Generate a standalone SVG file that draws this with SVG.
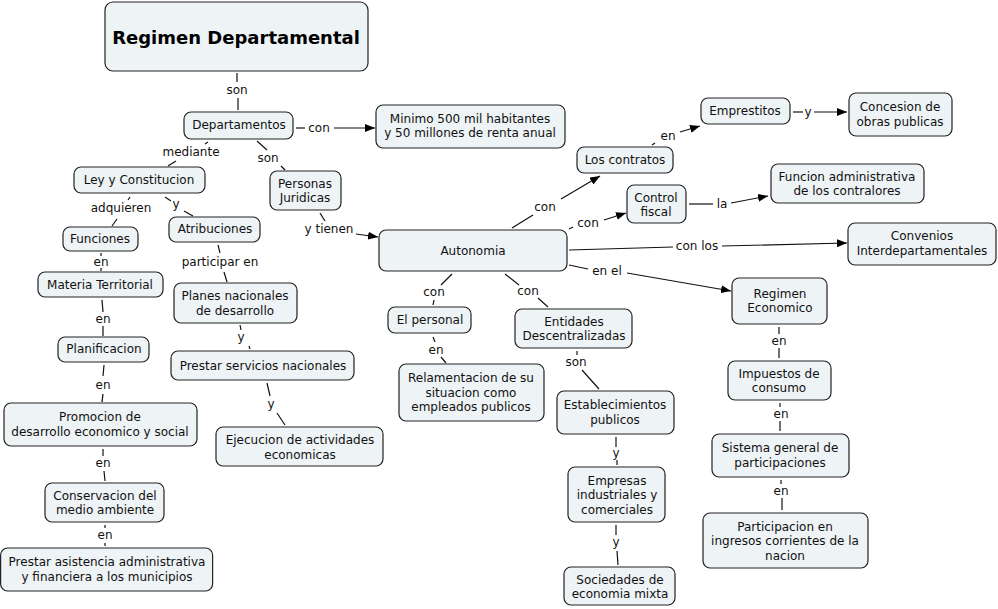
<svg xmlns="http://www.w3.org/2000/svg" width="998" height="609" viewBox="0 0 998 609">
<defs>
<marker id="ah" viewBox="0 0 10 8" refX="10" refY="4" markerWidth="10" markerHeight="8" markerUnits="userSpaceOnUse" orient="auto">
<path d="M0,0 L10,4 L0,8 z" fill="#000"/>
</marker>
<style>
.n rect{fill:#eef3f6;stroke:#222;stroke-width:1.2}
text{font-family:"DejaVu Sans",Verdana,sans-serif;font-size:12px;fill:#111;text-anchor:middle;dominant-baseline:central}
.t{font-size:18px;font-weight:bold;fill:#000}
.c line,.c polyline{stroke:#111;stroke-width:1.2;fill:none}
.c .a{marker-end:url(#ah)}
</style>
</defs>
<rect width="998" height="609" fill="#fff"/>

<g id="connectors" class="c">
<line x1="237" y1="73" x2="237" y2="82"/><line x1="238" y1="98" x2="238" y2="110"/>
<line x1="296" y1="128" x2="305" y2="128"/><line class="a" x1="334" y1="128" x2="375" y2="128"/>
<line x1="208" y1="142" x2="205" y2="144"/><line x1="176" y1="161" x2="168" y2="166"/>
<line x1="257" y1="141" x2="267" y2="150"/><line x1="281" y1="166" x2="285" y2="170"/>
<line x1="320" y1="213" x2="325" y2="221"/><line class="a" x1="356" y1="234" x2="378" y2="237"/>
<line x1="130" y1="197" x2="128" y2="200"/><line x1="117" y1="219" x2="112" y2="226"/>
<line x1="165" y1="197" x2="171" y2="201"/><line x1="184" y1="211" x2="193" y2="216"/>
<line x1="101" y1="253" x2="101" y2="256"/><line x1="101" y1="268" x2="101" y2="271"/>
<line x1="218" y1="245" x2="220" y2="253"/><line x1="224" y1="272" x2="227" y2="282"/>
<line x1="102" y1="300" x2="103" y2="312"/><line x1="103" y1="326" x2="103" y2="336"/>
<line x1="240" y1="325" x2="241" y2="330"/><line x1="249" y1="346" x2="250" y2="349"/>
<line x1="104" y1="365" x2="103" y2="376"/><line x1="103" y1="394" x2="102" y2="402"/>
<line x1="267" y1="383" x2="270" y2="396"/><line x1="277" y1="413" x2="285" y2="425"/>
<line x1="103" y1="449" x2="103" y2="456"/><line x1="104" y1="471" x2="105" y2="481"/>
<line x1="105" y1="525" x2="105" y2="528"/><line x1="105" y1="543" x2="105" y2="546"/>
<line x1="512" y1="228" x2="533" y2="215"/><line class="a" x1="561" y1="199" x2="600" y2="176"/>
<line x1="569" y1="229" x2="573" y2="227"/><line class="a" x1="604" y1="220" x2="626" y2="213"/>
<line x1="569" y1="250" x2="673" y2="247"/><line class="a" x1="722" y1="246" x2="847" y2="243"/>
<line x1="569" y1="265" x2="588" y2="269"/><line class="a" x1="627" y1="273" x2="731" y2="291"/>
<line x1="452" y1="274" x2="441" y2="285"/><line x1="434" y1="300" x2="433" y2="305"/>
<line x1="505" y1="274" x2="519" y2="285"/><line x1="538" y1="298" x2="548" y2="307"/>
<line x1="652" y1="145" x2="655" y2="143"/><line class="a" x1="680" y1="132" x2="700" y2="126"/>
<line x1="793" y1="112" x2="803" y2="112"/><line class="a" x1="814" y1="112" x2="847" y2="112"/>
<line x1="689" y1="204" x2="713" y2="204"/><line class="a" x1="731" y1="203" x2="768" y2="196"/>
<line x1="779" y1="327" x2="779" y2="334"/><line x1="779" y1="348" x2="779" y2="358"/>
<line x1="780" y1="403" x2="780" y2="407"/><line x1="780" y1="421" x2="780" y2="431"/>
<line x1="781" y1="480" x2="781" y2="484"/><line x1="782" y1="498" x2="782" y2="510"/>
<line x1="433" y1="337" x2="435" y2="342"/><line x1="441" y1="357" x2="446" y2="363"/>
<line x1="577" y1="351" x2="577" y2="355"/><line x1="582" y1="370" x2="599" y2="389"/>
<line x1="616" y1="437" x2="616" y2="447"/><line x1="617" y1="460" x2="617" y2="465"/>
<line x1="616" y1="525" x2="616" y2="535"/><line x1="617" y1="551" x2="618" y2="565"/>
</g>

<g id="labels">
<text x="237" y="90">son</text>
<text x="319" y="128">con</text>
<text x="191" y="152">mediante</text>
<text x="268" y="158">son</text>
<text x="329" y="229">y tienen</text>
<text x="121" y="208">adquieren</text>
<text x="176" y="204">y</text>
<text x="101" y="262">en</text>
<text x="220" y="262">participar en</text>
<text x="103" y="319">en</text>
<text x="241" y="337">y</text>
<text x="103" y="385">en</text>
<text x="271" y="404">y</text>
<text x="103" y="463">en</text>
<text x="105" y="535">en</text>
<text x="545" y="207">con</text>
<text x="588" y="223">con</text>
<text x="697" y="246">con los</text>
<text x="607" y="271">en el</text>
<text x="434" y="292">con</text>
<text x="528" y="291">con</text>
<text x="668" y="136">en</text>
<text x="808" y="112">y</text>
<text x="722" y="204">la</text>
<text x="779" y="341">en</text>
<text x="781" y="414">en</text>
<text x="781" y="491">en</text>
<text x="436" y="350">en</text>
<text x="576" y="362">son</text>
<text x="616" y="453">y</text>
<text x="616" y="542">y</text>
</g>

<g id="n-regimen-dep" class="n"><rect x="105" y="2" width="263" height="69" rx="8"/><text class="t" x="236" y="37">Regimen Departamental</text></g>
<g id="n-departamentos" class="n"><rect x="184" y="112" width="109" height="27" rx="7"/><text x="239" y="125">Departamentos</text></g>
<g id="n-minimo" class="n"><rect x="376" y="105" width="189" height="43" rx="7"/><text x="470" y="119">Minimo 500 mil habitantes</text><text x="470" y="133">y 50 millones de renta anual</text></g>
<g id="n-ley" class="n"><rect x="74" y="167" width="131" height="26" rx="7"/><text x="139" y="180">Ley y Constitucion</text></g>
<g id="n-personas" class="n"><rect x="270" y="171" width="71" height="39" rx="7"/><text x="305" y="184">Personas</text><text x="305" y="198">Juridicas</text></g>
<g id="n-funciones" class="n"><rect x="63" y="227" width="75" height="24" rx="7"/><text x="100" y="239">Funciones</text></g>
<g id="n-atribuciones" class="n"><rect x="169" y="217" width="91" height="25" rx="7"/><text x="215" y="229">Atribuciones</text></g>
<g id="n-materia" class="n"><rect x="38" y="272" width="125" height="25" rx="7"/><text x="100" y="285">Materia Territorial</text></g>
<g id="n-planes" class="n"><rect x="174" y="283" width="123" height="40" rx="7"/><text x="235" y="296">Planes nacionales</text><text x="235" y="311">de desarrollo</text></g>
<g id="n-planificacion" class="n"><rect x="58" y="337" width="91" height="25" rx="7"/><text x="104" y="349">Planificacion</text></g>
<g id="n-prestar-serv" class="n"><rect x="171" y="351" width="183" height="29" rx="7"/><text x="263" y="366">Prestar servicios nacionales</text></g>
<g id="n-promocion" class="n"><rect x="4" y="403" width="193" height="43" rx="7"/><text x="100" y="417">Promocion de</text><text x="100" y="432">desarrollo economico y social</text></g>
<g id="n-ejecucion" class="n"><rect x="216" y="427" width="167" height="39" rx="7"/><text x="300" y="440">Ejecucion de actividades</text><text x="300" y="455">economicas</text></g>
<g id="n-conservacion" class="n"><rect x="45" y="483" width="119" height="39" rx="7"/><text x="105" y="496">Conservacion del</text><text x="105" y="510">medio ambiente</text></g>
<g id="n-asistencia" class="n"><rect x="0.6" y="548" width="212" height="43" rx="7"/><text x="107" y="562">Prestar asistencia administrativa</text><text x="107" y="577">y financiera a los municipios</text></g>
<g id="n-autonomia" class="n"><rect x="379" y="230" width="188" height="41" rx="7"/><text x="473" y="251">Autonomia</text></g>
<g id="n-contratos" class="n"><rect x="577" y="147" width="96" height="26" rx="7"/><text x="625" y="160">Los contratos</text></g>
<g id="n-emprestitos" class="n"><rect x="701" y="98" width="89" height="26" rx="7"/><text x="745" y="111">Emprestitos</text></g>
<g id="n-concesion" class="n"><rect x="849" y="93" width="103" height="43" rx="7"/><text x="900" y="107">Concesion de</text><text x="900" y="122">obras publicas</text></g>
<g id="n-control" class="n"><rect x="627" y="185" width="59" height="38" rx="7"/><text x="656" y="198">Control</text><text x="656" y="212">fiscal</text></g>
<g id="n-funcion-adm" class="n"><rect x="771" y="164" width="153" height="39" rx="7"/><text x="847" y="177">Funcion administrativa</text><text x="847" y="191">de los contralores</text></g>
<g id="n-convenios" class="n"><rect x="848" y="223" width="148" height="42" rx="7"/><text x="922" y="236">Convenios</text><text x="922" y="251">Interdepartamentales</text></g>
<g id="n-regimen-eco" class="n"><rect x="732" y="278" width="95" height="46" rx="7"/><text x="780" y="294">Regimen</text><text x="780" y="308">Economico</text></g>
<g id="n-personal" class="n"><rect x="388" y="307" width="83" height="26" rx="7"/><text x="430" y="320">El personal</text></g>
<g id="n-entidades" class="n"><rect x="515" y="309" width="117" height="39" rx="7"/><text x="574" y="322">Entidades</text><text x="574" y="336">Descentralizadas</text></g>
<g id="n-relamentacion" class="n"><rect x="399" y="364" width="145" height="57" rx="7"/><text x="471" y="378">Relamentacion de su</text><text x="471" y="393">situacion como</text><text x="471" y="407">empleados publicos</text></g>
<g id="n-establecimientos" class="n"><rect x="557" y="391" width="117" height="43" rx="7"/><text x="615" y="405">Establecimientos</text><text x="615" y="420">publicos</text></g>
<g id="n-empresas" class="n"><rect x="568" y="467" width="97" height="55" rx="7"/><text x="617" y="481">Empresas</text><text x="617" y="495">industriales y</text><text x="617" y="510">comerciales</text></g>
<g id="n-sociedades" class="n"><rect x="564" y="567" width="111" height="38" rx="7"/><text x="620" y="580">Sociedades de</text><text x="620" y="594">economia mixta</text></g>
<g id="n-impuestos" class="n"><rect x="728" y="361" width="103" height="39" rx="7"/><text x="779" y="374">Impuestos de</text><text x="779" y="388">consumo</text></g>
<g id="n-sistema" class="n"><rect x="712" y="434" width="137" height="43" rx="7"/><text x="780" y="448">Sistema general de</text><text x="780" y="463">participaciones</text></g>
<g id="n-participacion" class="n"><rect x="703" y="513" width="165" height="55" rx="7"/><text x="785" y="527">Participacion en</text><text x="785" y="541">ingresos corrientes de la</text><text x="785" y="556">nacion</text></g>
</svg>
